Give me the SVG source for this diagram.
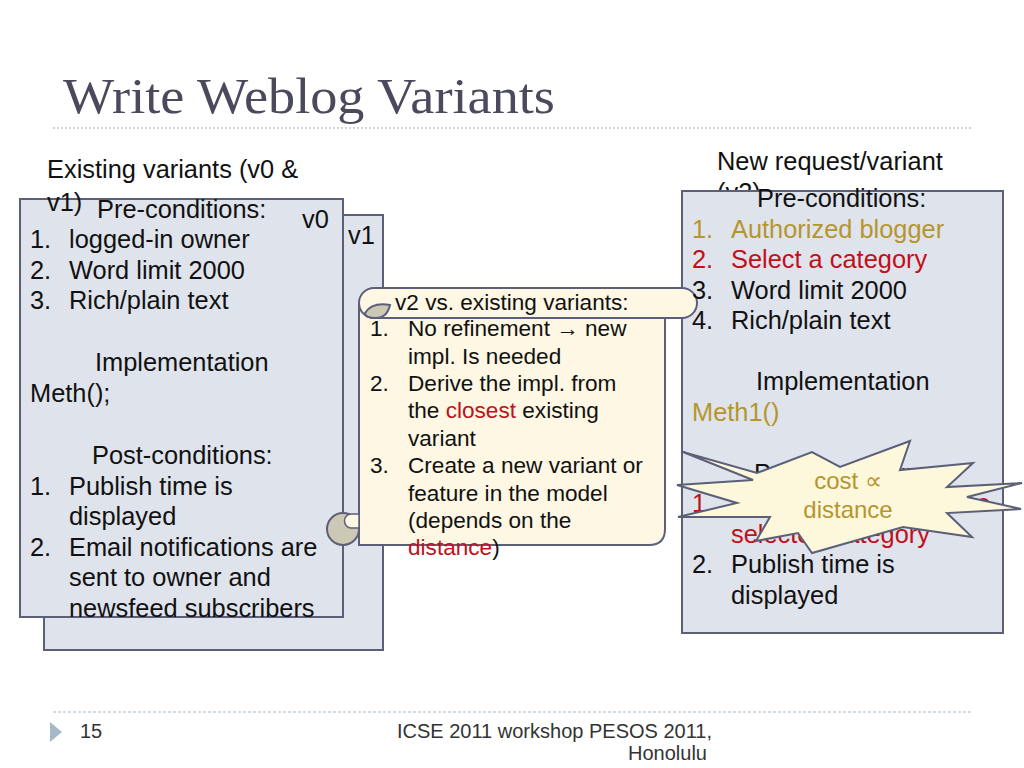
<svg xmlns="http://www.w3.org/2000/svg" width="1024" height="768" viewBox="0 0 1024 768">
<style>
.box{fill:#dfe3ec;stroke:#5b5f78;stroke-width:2}
.t{font-family:"Liberation Sans",Arial,sans-serif;font-size:25.4px;fill:#111}
.s{font-family:"Liberation Sans",Arial,sans-serif;font-size:22.6px;fill:#111}
.gold{fill:#b5962c}
.red{fill:#c0101a}
.cream{fill:#fdf7e4;stroke:#5b5f78;stroke-width:2}
.curl{fill:#cdc7b5;stroke:#5b5f78;stroke-width:2}
.f{font-family:"Liberation Sans",Arial,sans-serif;font-size:20px;fill:#333}
</style>
<rect width="1024" height="768" fill="#ffffff"/>
<g id="title">
<text x="63" y="113" font-family="'Liberation Serif','Times New Roman',serif" font-size="50" fill="#4a4a5c" textLength="492" lengthAdjust="spacingAndGlyphs">Write Weblog Variants</text>
<line x1="53" y1="128" x2="973" y2="128" stroke="#c4c4c4" stroke-width="1.5" stroke-dasharray="2,2"/>
</g>
<g id="v1-box">
<rect class="box" x="44" y="215" width="339" height="435"/>
<text class="t" x="348" y="244">v1</text>
</g>
<g id="v0-box">
<rect class="box" x="20" y="199" width="323" height="418"/>
<text class="t" x="302" y="228">v0</text>
<text class="t" x="97" y="218">Pre-conditions:</text>
<text class="t" x="30" y="248">1.</text><text class="t" x="69" y="248">logged-in owner</text>
<text class="t" x="30" y="278.5">2.</text><text class="t" x="69" y="278.5">Word limit 2000</text>
<text class="t" x="30" y="309">3.</text><text class="t" x="69" y="309">Rich/plain text</text>
<text class="t" x="95" y="371">Implementation</text>
<text class="t" x="30" y="401.5">Meth();</text>
<text class="t" x="92" y="464">Post-conditions:</text>
<text class="t" x="30" y="494.5">1.</text><text class="t" x="69" y="494.5">Publish time is</text>
<text class="t" x="69" y="525">displayed</text>
<text class="t" x="30" y="555.5">2.</text><text class="t" x="69" y="555.5">Email notifications are</text>
<text class="t" x="69" y="586">sent to owner and</text>
<text class="t" x="69" y="616.5">newsfeed subscribers</text>
</g>
<g id="existing-label">
<text class="t" x="47" y="178">Existing variants (v0 &amp;</text>
<text class="t" x="47" y="211">v1)</text>
</g>
<g id="new-label">
<text class="t" x="717" y="170">New request/variant</text>
<text class="t" x="717" y="200.5">(v2)</text>
</g>
<g id="v2-box">
<rect class="box" x="682" y="191" width="321" height="442"/>
</g>
<g id="scroll">
<path class="cream" d="M359,305 L359,545 L649,545 Q665,545 665,529 L665,310 Z"/>
<circle class="curl" cx="343" cy="529" r="16"/>
<path d="M359,514 L359,528 L351,528 A6.5,7 0 0 1 351,514 Z" fill="#fdf7e4" stroke="#5b5f78" stroke-width="1.5"/>
<path class="cream" d="M374,288 L682,288 A15,15 0 0 1 682,318 L374,318 A15,15 0 0 1 374,288 Z"/>
<path class="curl" d="M365,313 Q372,302 390,305 Q387,318 376,318 Q365,318 365,313 Z"/>
<text class="s" x="395" y="310">v2 vs. existing variants:</text>
<text class="s" x="370" y="336">1.</text><text class="s" x="408" y="336">No refinement <tspan font-weight="bold">→</tspan> new</text>
<text class="s" x="408" y="363.5">impl. Is needed</text>
<text class="s" x="370" y="391">2.</text><text class="s" x="408" y="391">Derive the impl. from</text>
<text class="s" x="408" y="418">the <tspan class="red">closest</tspan> existing</text>
<text class="s" x="408" y="445.5">variant</text>
<text class="s" x="370" y="473">3.</text><text class="s" x="408" y="473">Create a new variant or</text>
<text class="s" x="408" y="500.5">feature in the model</text>
<text class="s" x="408" y="528">(depends on the</text>
<text class="s" x="408" y="555"><tspan class="red">distance</tspan>)</text>
</g>
<g id="v2-text">
<text class="t" x="757" y="207">Pre-conditions:</text>
<text class="t gold" x="692" y="237.5">1.</text><text class="t gold" x="731" y="237.5">Authorized blogger</text>
<text class="t red" x="692" y="268">2.</text><text class="t red" x="731" y="268">Select a category</text>
<text class="t" x="692" y="298.5">3.</text><text class="t" x="731" y="298.5">Word limit 2000</text>
<text class="t" x="692" y="329">4.</text><text class="t" x="731" y="329">Rich/plain text</text>
<text class="t" x="756" y="390">Implementation</text>
<text class="t gold" x="692" y="420.5">Meth1()</text>
<text class="t" x="754" y="481.5">Post-conditions:</text>
<text class="t red" x="692" y="512">1.</text><text class="t red" x="955" y="512">the</text>
<text class="t red" x="731" y="542.5">selected category</text>
<text class="t" x="692" y="573">2.</text><text class="t" x="731" y="573">Publish time is</text>
<text class="t" x="731" y="603.5">displayed</text>
</g>
<g id="cost-star">
<path d="M683,452 L757,473 L812,452 L840,467 L910,441 L900,470 L973,463 L947,487 L1022,483 L967,497 L1021,509 L947,513 L972,537 L903,527 L812,553 L798,533 L756,541 L770,517 L678,517 L737,503 L677,485 L753,480 Z" fill="#fdf7dc" stroke="#5b5f78" stroke-width="2" stroke-linejoin="miter"/>
<text x="848" y="489" text-anchor="middle" font-family="'Liberation Sans',Arial,sans-serif" font-size="24" fill="#b5962c">cost ∝</text>
<text x="848" y="518" text-anchor="middle" font-family="'Liberation Sans',Arial,sans-serif" font-size="24" fill="#b5962c">distance</text>
</g>
<g id="connectors"/>
<g id="footer">
<line x1="53" y1="712" x2="973" y2="712" stroke="#a3b8ca" stroke-width="1.2" stroke-dasharray="3,2"/>
<path d="M50,722 L62,732 L50,742 Z" fill="#a5b9ca"/>
<text class="f" x="80" y="738" font-size="18">15</text>
<text class="f" x="712" y="738" text-anchor="end">ICSE 2011 workshop PESOS 2011,</text>
<text class="f" x="707" y="760" text-anchor="end">Honolulu</text>
</g>
</svg>
